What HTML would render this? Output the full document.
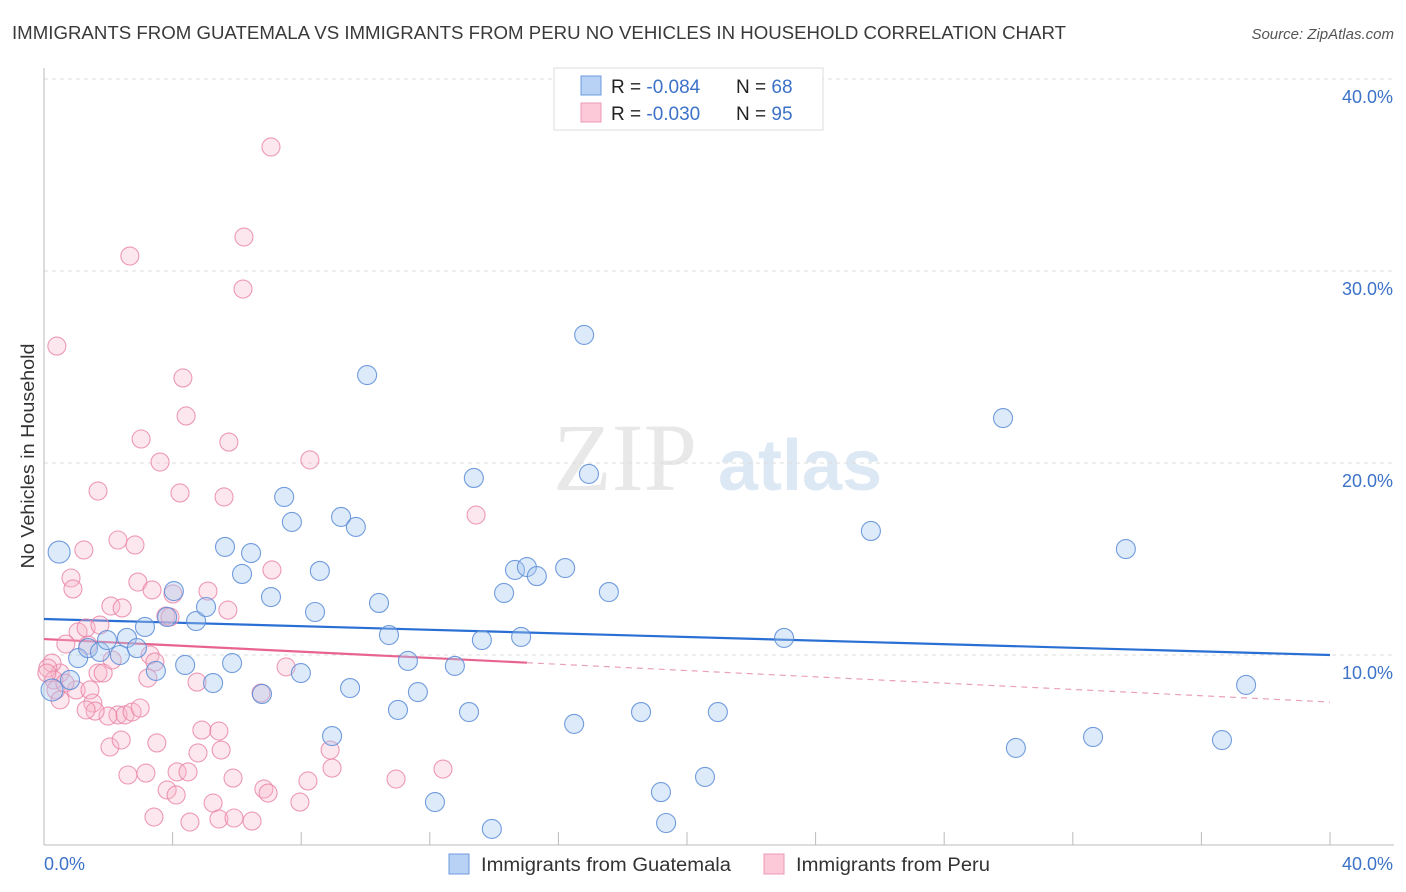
<!DOCTYPE html>
<html><head><meta charset="utf-8"><style>
body{margin:0;background:#fff;font-family:"Liberation Sans",sans-serif}
svg{display:block}
</style></head><body>
<svg id="chart" width="1406" height="892" xmlns="http://www.w3.org/2000/svg">
<text x="12" y="39" font-size="18" fill="#3a3a3a" textLength="1054" lengthAdjust="spacingAndGlyphs">IMMIGRANTS FROM GUATEMALA VS IMMIGRANTS FROM PERU NO VEHICLES IN HOUSEHOLD CORRELATION CHART</text>
<text x="1394" y="39" font-size="15" fill="#555" font-style="italic" text-anchor="end">Source: ZipAtlas.com</text>
<text transform="translate(34,456) rotate(-90)" font-size="18" fill="#333" text-anchor="middle" textLength="225" lengthAdjust="spacingAndGlyphs">No Vehicles in Household</text>
<g>
<text x="553" y="490" font-size="96" fill="#e8e8e8" font-family="Liberation Serif, serif">ZIP</text>
<text x="718" y="490" font-size="72" fill="#dde8f5" font-weight="bold">atlas</text>
</g>
<g id="grid"></g>
<g id="axes"></g>
<g id="trend"></g>
<g id="pts"></g>
<g>
<rect x="554" y="68" width="269" height="62" fill="#fff" stroke="#ddd"/>
<rect x="581" y="76" width="20" height="19" fill="#b8d2f5" stroke="#6e9be0"/>
<rect x="581" y="103" width="20" height="19" fill="#fcc9d8" stroke="#ee9ab4"/>
<text x="611" y="93" font-size="19" fill="#222">R = <tspan fill="#3c72c8">-0.084</tspan></text>
<text x="736" y="93" font-size="19" fill="#222">N = <tspan fill="#3c72c8">68</tspan></text>
<text x="611" y="120" font-size="19" fill="#222">R = <tspan fill="#3c72c8">-0.030</tspan></text>
<text x="736" y="120" font-size="19" fill="#222">N = <tspan fill="#3c72c8">95</tspan></text>
</g>
<g>
<rect x="449" y="854" width="20" height="20" fill="#b8d2f5" stroke="#6e9be0"/>
<text x="481" y="871" font-size="19" fill="#333" textLength="250" lengthAdjust="spacingAndGlyphs">Immigrants from Guatemala</text>
<rect x="764" y="854" width="20" height="20" fill="#fcc9d8" stroke="#ee9ab4"/>
<text x="796" y="871" font-size="19" fill="#333" textLength="194" lengthAdjust="spacingAndGlyphs">Immigrants from Peru</text>
</g>
</svg>
<script>
const xTicks=[0,40];
const yTicks=[10,20,30,40];
const blueX=[0.47,0.81,1.06,1.37,0.25,1.74,1.96,2.58,2.36,2.89,3.14,3.48,3.83,4.04,4.39,4.73,5.04,5.26,5.63,5.85,6.16,6.44,6.78,7.06,7.47,7.71,7.99,8.43,8.58,8.96,9.24,9.52,9.70,10.05,10.42,10.73,11.01,11.32,11.63,12.16,12.78,13.22,13.37,13.62,13.93,14.31,14.65,14.84,15.02,15.33,16.21,16.49,16.80,16.95,17.57,18.57,19.19,19.35,20.56,20.96,23.02,25.72,29.83,30.23,32.63,33.65,36.64,37.39];
const blueY=[15.36,8.70,9.84,10.36,8.18,10.16,10.78,10.89,10.0,10.36,11.46,9.17,11.98,13.33,9.48,11.77,12.5,8.54,15.63,9.58,14.22,15.31,7.97,13.02,18.23,16.93,9.06,12.24,14.38,5.78,17.19,8.28,16.67,24.58,12.71,11.04,7.14,9.69,8.07,2.34,9.43,7.03,19.22,10.78,0.94,13.23,14.43,10.94,14.58,14.11,14.53,6.41,26.67,19.43,13.28,7.03,2.86,1.25,3.65,7.03,10.89,16.46,22.34,5.16,5.73,15.52,5.57,8.44];
const pinkX=[0.40,2.67,6.22,7.06,6.19,4.32,3.02,4.42,5.75,3.61,8.27,1.68,4.23,5.60,13.44,1.24,2.30,2.83,0.84,0.90,2.08,2.43,2.92,3.36,4.01,5.10,7.09,3.79,3.92,5.72,1.06,1.31,1.74,0.68,1.37,0.50,0.25,0.12,0.31,0.37,0.50,1.00,1.43,1.52,1.68,1.84,2.12,3.30,3.45,3.23,4.76,6.75,7.53,2.30,2.52,2.74,2.99,1.99,1.59,1.31,2.05,2.40,3.51,4.91,5.44,4.79,5.51,2.61,3.17,4.14,4.48,5.88,3.83,4.11,5.26,6.84,6.97,8.21,7.96,3.42,4.54,5.44,5.91,6.47,8.96,8.90,10.95,12.41,0.09,0.65];
const pinkY=[26.09,30.78,31.77,36.46,29.06,24.43,21.25,22.45,21.09,20.05,20.16,18.54,18.44,18.23,17.29,15.47,15.99,15.73,14.01,13.44,12.55,12.45,13.80,13.39,13.18,13.33,14.43,12.03,11.98,12.34,11.20,11.41,11.56,10.57,10.52,9.06,9.58,9.32,8.70,8.18,7.66,8.18,8.18,7.50,9.06,9.06,9.74,10.00,9.64,8.80,8.59,8.02,9.38,6.88,6.88,7.03,7.24,6.82,7.08,7.14,5.21,5.57,5.42,6.09,6.04,4.90,5.05,3.75,3.85,3.91,3.91,3.59,2.97,2.71,2.29,3.02,2.81,3.44,2.34,1.56,1.30,1.46,1.51,1.35,4.11,5.05,3.54,4.06,9.06,8.54];
const blueTrend=[11.875,10.0];
const pinkTrend=[10.83,7.55];
const pinkSolidEnd=15.02;

const NS='http://www.w3.org/2000/svg';
const X0=44,X1=1330,YB=847,YT=79;
const sx=v=>X0+(v-0)/40*(X1-X0);
const sy=v=>YB-(v/40)*(YB-YT);
function mk(tag,attrs,parent){const e=document.createElementNS(NS,tag);for(const k in attrs)e.setAttribute(k,attrs[k]);document.getElementById(parent).appendChild(e);return e;}

yTicks.forEach(t=>{
  const l=mk('line',{x1:X0,x2:1394,y1:sy(t),y2:sy(t),stroke:'#ddd','stroke-dasharray':'4,4'},'grid');
  
  
  const tx=mk('text',{x:1393,y:sy(t)+24,'font-size':18,fill:'#3c72c8','text-anchor':'end'},'grid');
  tx.textContent=t.toFixed(1)+'%';
  
  
});
const ax=mk('line',{x1:X0,x2:X0,y1:68,y2:845,stroke:'#bbb'},'axes');


const bx=mk('line',{x1:X0,x2:1394,y1:845,y2:845,stroke:'#bbb'},'axes');


for(let i=1;i<=10;i++){
  const v=i*4;
  const tk=mk('line',{x1:sx(v),x2:sx(v),y1:832,y2:845,stroke:'#bbb'},'axes');
  
  
}
xTicks.forEach((t,i)=>{
  const tx=mk('text',{x:i==0?44:1393,y:870,'font-size':18,fill:'#3c72c8','text-anchor':i==0?'start':'end'},'axes');
  tx.textContent=t.toFixed(1)+'%';
  
  
});

pinkX.forEach((x,i)=>{
  const c=mk('circle',{cx:sx(x),cy:sy(pinkY[i]),r:9,fill:'rgba(248,180,203,0.32)',stroke:'rgba(232,130,165,0.8)','stroke-width':1.1},'pts');
  
  
});
blueX.forEach((x,i)=>{
  const c=mk('circle',{cx:sx(x),cy:sy(blueY[i]),r:(i==0||i==4)?11:9.5,fill:'rgba(165,199,240,0.38)',stroke:'rgba(90,140,215,0.85)','stroke-width':1.1},'pts');
  
  
});

const bl=mk('line',{x1:sx(0),y1:sy(blueTrend[0]),x2:sx(40),y2:sy(blueTrend[1]),stroke:'#2a6fd4','stroke-width':2.2},'trend');


const pAt=v=>pinkTrend[0]+(pinkTrend[1]-pinkTrend[0])*v/40;
const pl=mk('line',{x1:sx(0),y1:sy(pinkTrend[0]),x2:sx(pinkSolidEnd),y2:sy(pAt(pinkSolidEnd)),stroke:'#e8648e','stroke-width':2.2},'trend');


const pd=mk('line',{x1:sx(pinkSolidEnd),y1:sy(pAt(pinkSolidEnd)),x2:sx(40),y2:sy(pinkTrend[1]),stroke:'#eaa0b8','stroke-width':1.2,'stroke-dasharray':'6,5'},'trend');


</script>
</body></html>
